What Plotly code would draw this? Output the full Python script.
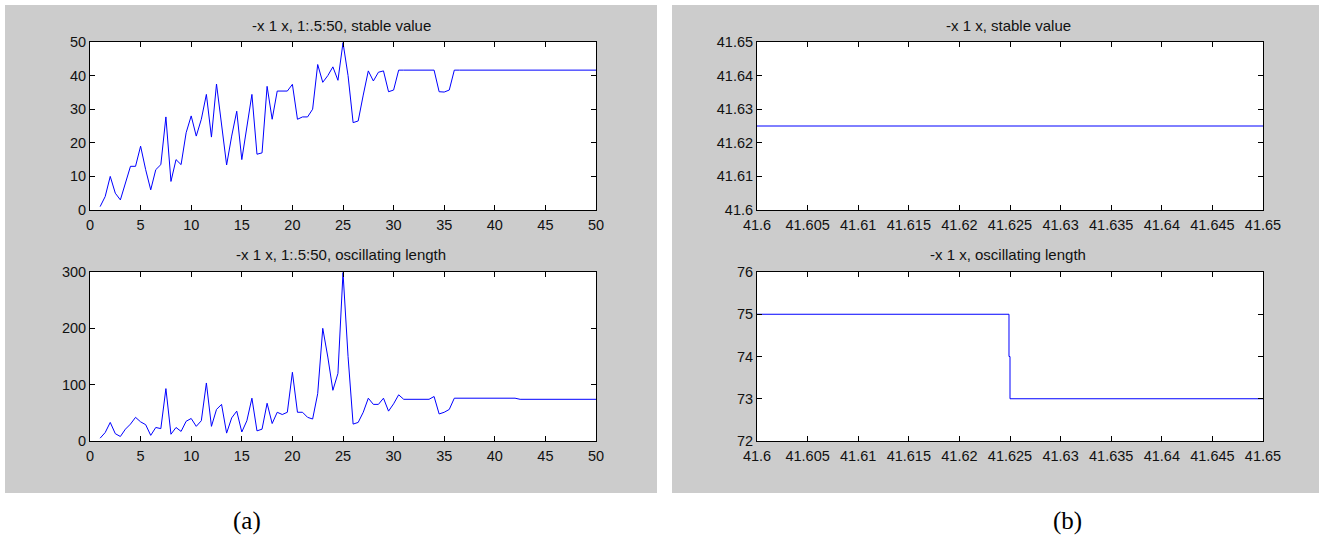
import plotly.graph_objects as go

W, H = 1324, 541

# ---------------- data ----------------
x_a = [1 + 0.5 * i for i in range(99)]  # 1:.5:50

stable_a = [1, 4, 10, 5, 3, 8, 13, 13, 19, 12, 6, 12, 13.5, 27.7, 8.5, 15, 13.5, 23, 28, 22,
            27, 34.4, 21.7, 37.5, 25.4, 13.4, 22, 29.4, 15, 25, 34.4, 16.6, 17, 36.8, 27, 35.4,
            35.4, 35.4, 37.4, 27, 27.7, 27.7, 30, 43.3, 38, 40, 42.6, 38.6, 49.8, 40,
            26, 26.5, 34.2, 41.4, 38.4, 41, 41.4, 35.2, 35.7, 41.625,
            41.625, 41.625, 41.625, 41.625, 41.625, 41.625, 41.625, 35.2, 35.1, 35.7,
            41.625, 41.625, 41.625, 41.625, 41.625, 41.625, 41.625, 41.625, 41.625, 41.625,
            41.625, 41.625, 41.625, 41.625, 41.625, 41.625, 41.625, 41.625, 41.625, 41.625,
            41.625, 41.625, 41.625, 41.625, 41.625, 41.625, 41.625, 41.625, 41.625]

osc_a = [5, 15, 33, 13, 8, 21, 30, 42, 34, 29, 10, 24, 22, 93, 12, 24, 17, 35, 40, 26,
         36, 103, 26, 56, 65, 14, 41, 53, 16, 36, 76, 18, 21, 67, 31, 51, 47, 51, 122, 51,
         51, 42, 39, 84, 200, 149, 90, 120, 299, 150,
         30, 33, 51, 76, 65, 65, 76, 53, 66, 82,
         74, 74, 74, 74, 74, 74, 79, 48, 51, 56,
         76, 76, 76, 76, 76, 76, 76, 76, 76, 76,
         76, 76, 76, 74, 74, 74, 74, 74, 74, 74,
         74, 74, 74, 74, 74, 74, 74, 74, 74]

x_b_stable = [41.6, 41.65]
stable_b = [41.625, 41.625]

x_b_osc = [41.6, 41.6249, 41.6249, 41.625, 41.625, 41.65]
osc_b = [75, 75, 74, 74, 73, 73]

xa_ticks = [0, 5, 10, 15, 20, 25, 30, 35, 40, 45, 50]
ya_top_ticks = [0, 10, 20, 30, 40, 50]
ya_bot_ticks = [0, 100, 200, 300]
xb_ticks = [41.6, 41.605, 41.61, 41.615, 41.62, 41.625, 41.63, 41.635, 41.64, 41.645, 41.65]
xb_labels = ["41.6", "41.605", "41.61", "41.615", "41.62", "41.625", "41.63", "41.635",
             "41.64", "41.645", "41.65"]
yb_top_ticks = [41.6, 41.61, 41.62, 41.63, 41.64, 41.65]
yb_top_labels = ["41.6", "41.61", "41.62", "41.63", "41.64", "41.65"]
yb_bot_ticks = [72, 73, 74, 75, 76]

titles = ["-x 1 x, 1:.5:50, stable value", "-x 1 x, 1:.5:50, oscillating length",
          "-x 1 x, stable value", "-x 1 x, oscillating length"]
captions = ["(a)", "(b)"]

# ---------------- layout helpers ----------------
def px_x(p):
    return p / W

def px_y(p):
    return 1 - p / H

LINE = dict(color="rgb(0,0,255)", width=1)
FONT = "Liberation Sans, Arial, sans-serif"

fig = go.Figure()
fig.add_trace(go.Scatter(x=x_a, y=stable_a, mode="lines", line=LINE, xaxis="x", yaxis="y"))
fig.add_trace(go.Scatter(x=x_a, y=osc_a, mode="lines", line=LINE, xaxis="x2", yaxis="y2"))
fig.add_trace(go.Scatter(x=x_b_stable, y=stable_b, mode="lines", line=LINE, xaxis="x3", yaxis="y3"))
fig.add_trace(go.Scatter(x=x_b_osc, y=osc_b, mode="lines", line=LINE, xaxis="x4", yaxis="y4"))

PX_LEFT = (90, 596)
PX_RIGHT = (757, 1263)
PX_TOP = (42, 210)
PX_BOT = (272, 441)

dom_x_left = [px_x(PX_LEFT[0]), px_x(PX_LEFT[1])]
dom_x_right = [px_x(PX_RIGHT[0]), px_x(PX_RIGHT[1])]
dom_y_top = [px_y(PX_TOP[1]), px_y(PX_TOP[0])]
dom_y_bot = [px_y(PX_BOT[1]), px_y(PX_BOT[0])]

def ax(domain, anchor, rng, tickvals, ticktext=None, standoff=None):
    d = dict(domain=domain, anchor=anchor, range=rng, tickmode="array", tickvals=tickvals,
             showline=True, mirror="ticks", linecolor="black", linewidth=1,
             ticks="inside", ticklen=5, tickcolor="black", tickwidth=1,
             showgrid=False, zeroline=False, automargin=False,
             tickfont=dict(family=FONT, size=14.5, color="#111111"))
    if ticktext is not None:
        d["ticktext"] = ticktext
    if standoff is not None:
        d["ticklabelstandoff"] = standoff
    return d

layout = dict(
    width=W, height=H, margin=dict(l=0, r=0, t=0, b=0, pad=0), autosize=False,
    paper_bgcolor="white", plot_bgcolor="white", showlegend=False,
    xaxis=ax(dom_x_left, "y", [0, 50], xa_ticks, standoff=2),
    yaxis=ax(dom_y_top, "x", [0, 50], ya_top_ticks),
    xaxis2=ax(dom_x_left, "y2", [0, 50], xa_ticks, standoff=2),
    yaxis2=ax(dom_y_bot, "x2", [0, 300], ya_bot_ticks),
    xaxis3=ax(dom_x_right, "y3", [41.6, 41.65], xb_ticks, xb_labels, standoff=2),
    yaxis3=ax(dom_y_top, "x3", [41.6, 41.65], yb_top_ticks, yb_top_labels),
    xaxis4=ax(dom_x_right, "y4", [41.6, 41.65], xb_ticks, xb_labels, standoff=2),
    yaxis4=ax(dom_y_bot, "x4", [72, 76], yb_bot_ticks),
)
fig.update_layout(**layout)

# gray figure panels
for x0, x1 in [(5, 657), (672, 1319)]:
    fig.add_shape(type="rect", xref="paper", yref="paper",
                  x0=px_x(x0), x1=px_x(x1), y0=px_y(493), y1=px_y(5),
                  fillcolor="#cccccc", line=dict(width=0), layer="below")
# white plot areas on top of the gray panels
for (xa0, xa1) in [PX_LEFT, PX_RIGHT]:
    for (ya0, ya1) in [PX_TOP, PX_BOT]:
        fig.add_shape(type="rect", xref="paper", yref="paper",
                      x0=px_x(xa0), x1=px_x(xa1), y0=px_y(ya1), y1=px_y(ya0),
                      fillcolor="white", line=dict(width=0), layer="below")

# subplot titles
for text, cx, cy in [(titles[0], 341, 25), (titles[1], 341, 255),
                     (titles[2], 1008, 25), (titles[3], 1008, 255)]:
    fig.add_annotation(text=text, xref="paper", yref="paper", x=px_x(cx), y=px_y(cy),
                       xanchor="center", yanchor="middle", showarrow=False,
                       font=dict(family=FONT, size=15, color="#111111"))

# captions
for text, cx in [(captions[0], 247), (captions[1], 1067)]:
    fig.add_annotation(text=text, xref="paper", yref="paper", x=px_x(cx), y=px_y(521),
                       xanchor="center", yanchor="middle", showarrow=False,
                       font=dict(family="Liberation Serif, Times New Roman, serif", size=25,
                                 color="black"))

fig.write_html("out.html")
